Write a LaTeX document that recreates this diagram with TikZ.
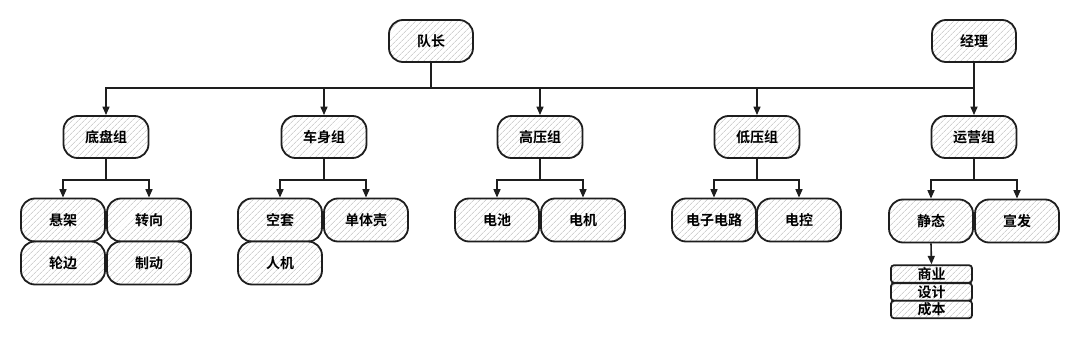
\documentclass[tikz,border=0pt]{standalone}
\usepackage{fontspec}
\newfontfamily\cjk{Noto Sans CJK SC}[UprightFont=* Bold]
\usetikzlibrary{arrows.meta,patterns.meta}
\definecolor{cInk} {RGB}{30, 30, 30}
\definecolor{cHatch}{RGB}{185,185,185}
\tikzset{
  B/.style    = {draw=cInk, line width=1.8pt, rounded corners=14pt, align=center,
                 font=\cjk\fontsize{14}{15}\selectfont,
                 preaction={fill=white},
                 pattern={Lines[angle=45,distance=4pt,line width=0.6pt]},
                 pattern color=cHatch, inner sep=0pt},
  top/.style  = {B, minimum width=84pt, minimum height=42pt},
  grp/.style  = {B, minimum width=85pt, minimum height=42pt},
  leaf/.style = {B, minimum width=84pt, minimum height=43pt},
  tag/.style  = {B, rounded corners=3pt, minimum width=81pt, minimum height=17.5pt},
  A/.style    = {-{Triangle[length=8.5pt,width=7pt]}, line width=1.6pt, draw=cInk},
  bus/.style  = {line width=2.6pt, draw=cInk},
}
\begin{document}
\begin{tikzpicture}[x=1pt, y=-1pt]
\useasboundingbox (0,0) rectangle (1080,340);

%% Layout (px, y down):
%% y: 41=top, 88=bus, 137=groups, 179=branch, 220/263=leaves
%% x: 107=chassis, 324=body, 540=HV, 757=LV, 974=ops

%% ─── top ─────────────────────────────────────────────────────────
\node[top] (lead) at (431, 41) {队长};
\node[top] (mgr)  at (974, 41) {经理};
\coordinate (busY) at (0, 88);

%% ─── groups ──────────────────────────────────────────────────────
\node[grp] (gCh) at (106, 137) {底盘组};
\node[grp] (gBo) at (324, 137) {车身组};
\node[grp] (gHv) at (540, 137) {高压组};
\node[grp] (gLv) at (757, 137) {低压组};
\node[grp] (gOp) at (974, 137) {运营组};

\draw[bus] (lead.south) -- (lead.south |- busY);
\draw[bus] (gCh.north |- busY) -- (mgr.south |- busY);
\draw[A] (lead.south |- busY) -| (gCh.north);
\draw[A] (lead.south |- busY) -| (gBo.north);
\draw[A] (lead.south |- busY) -| (gHv.north);
\draw[A] (lead.south |- busY) -| (gLv.north);
\draw[A] (mgr.south) -- (gOp.north);

%% ─── leaves ──────────────────────────────────────────────────────
\node[leaf] (xuan)  at (63, 220)  {悬架};
\node[leaf] (zhuan) at (149, 220) {转向};
\node[leaf] (lun)   at (63, 263)  {轮边};
\node[leaf] (zhi)   at (149, 263) {制动};

\node[leaf] (kong)  at (280, 220) {空套};
\node[leaf] (dan)   at (366, 220) {单体壳};
\node[leaf] (ren)   at (280, 263) {人机};

\node[leaf] (chi)   at (497, 220) {电池};
\node[leaf] (ji)    at (583, 220) {电机};

\node[leaf] (lu)    at (714, 220) {电子电路};
\node[leaf] (kon)   at (799, 220) {电控};

\node[leaf] (jing)  at (931, 221) {静态};
\node[leaf] (xf)    at (1017, 221) {宣发};

\foreach \g/\a/\b in {gCh/xuan/zhuan, gBo/kong/dan, gHv/chi/ji,
                      gLv/lu/kon, gOp/jing/xf}{
  \draw[A] (\g.south) -- ++(0,21) -| (\a.north);
  \draw[A] (\g.south) -- ++(0,21) -| (\b.north);
}

%% ─── static stack ────────────────────────────────────────────────
\node[tag] (sy) at (931.5, 274) {商业};
\node[tag] (sj) at (931.5, 292) {设计};
\node[tag] (cb) at (931.5, 309.5) {成本};
\draw[A] (jing.south) -- (sy.north);

\end{tikzpicture}
\end{document}
